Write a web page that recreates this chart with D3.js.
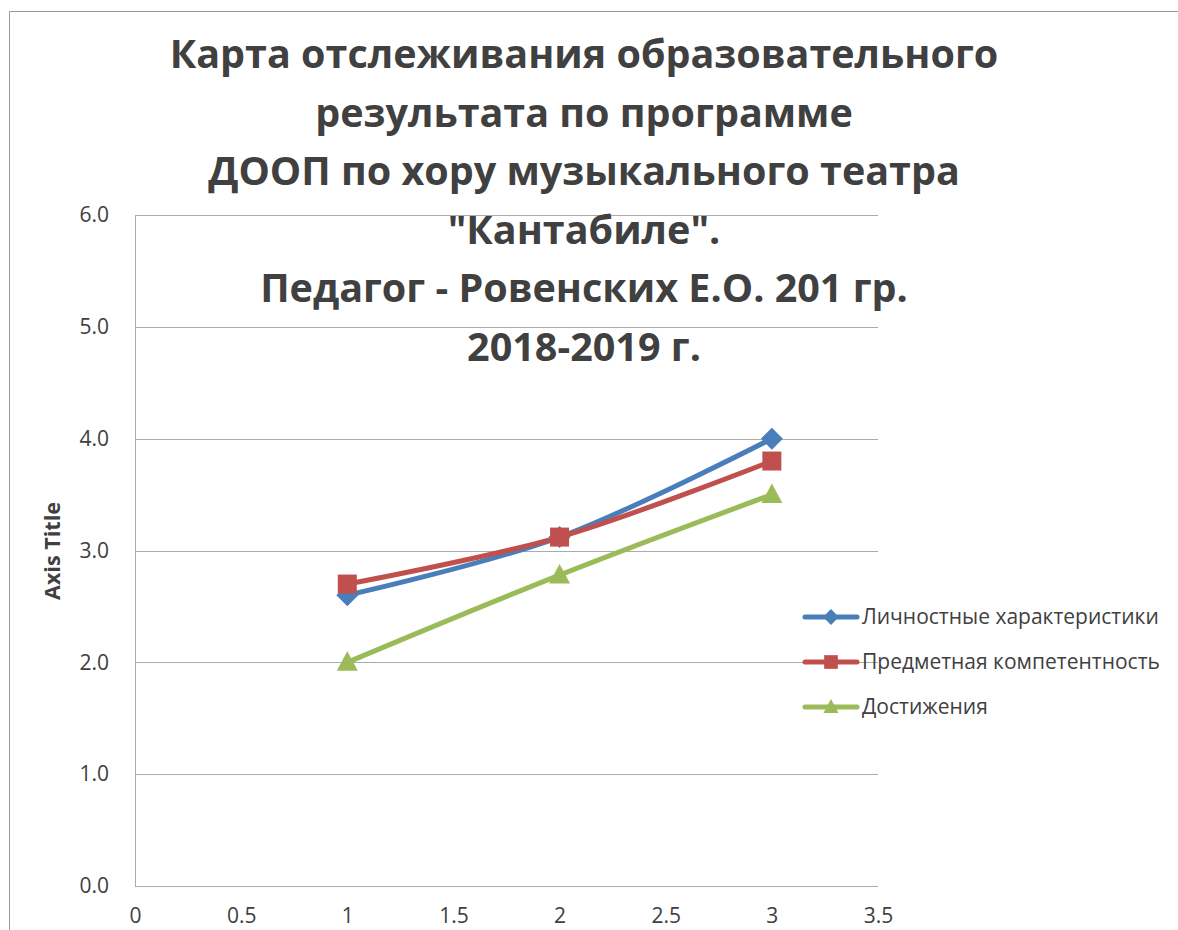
<!DOCTYPE html>
<html>
<head>
<meta charset="utf-8">
<script src="https://cdn.jsdelivr.net/npm/d3@7"></script>
<style>
  html, body { margin: 0; padding: 0; background: #fff; }
  svg { display: block; }
</style>
</head>
<body>
<svg id="chart" width="1178" height="930"></svg>
<script>
// ---- data ----
const xValues = [1, 2, 3];
const seriesNames = ["Личностные характеристики", "Предметная компетентность", "Достижения"];
const seriesLichnostnye = [2.6, 3.12, 4.0];
const seriesPredmetnaya = [2.7, 3.12, 3.8];
const seriesDostizheniya = [2.0, 2.78, 3.5];
const xTicks = [0, 0.5, 1, 1.5, 2, 2.5, 3, 3.5];
const yTicks = [0, 1, 2, 3, 4, 5, 6];
const titleLines = [
  "Карта отслеживания образовательного",
  "результата по программе",
  "ДООП по хору музыкального театра",
  "\"Кантабиле\".",
  "Педагог - Ровенских Е.О. 201 гр.",
  "2018-2019 г."
];
const yAxisTitle = "Axis Title";

// ---- styles ----
const colors = ["#4A7EBB", "#C0504D", "#9BBB59"];
const markerTypes = ["diamond", "square", "triangle"];
const textColor = "#404040";
const gridColor = "#ababab";
const font = "'Open Sans', 'Noto Sans', sans-serif";

const svg = d3.select("#chart");

// chart border
svg.append("path")
  .attr("d", "M9.5,930 L9.5,11.5 L1178,11.5")
  .attr("fill", "none")
  .attr("stroke", "#9a9a9a")
  .attr("stroke-width", 1);

const x = d3.scaleLinear().domain([0, 3.5]).range([135, 878]);
const y = d3.scaleLinear().domain([0, 6]).range([886, 215]);

// gridlines
svg.append("g")
  .selectAll("line")
  .data(yTicks)
  .join("line")
  .attr("x1", x(0)).attr("x2", x(3.5))
  .attr("y1", d => Math.round(y(d)) + 0.5)
  .attr("y2", d => Math.round(y(d)) + 0.5)
  .attr("stroke", gridColor)
  .attr("stroke-width", 1);

// y axis
const yAxis = d3.axisLeft(y).tickValues(yTicks).tickFormat(d3.format(".1f")).tickSize(0).tickPadding(26);
const gy = svg.append("g").attr("transform", `translate(${x(0)},0)`).call(yAxis);
gy.select(".domain").attr("stroke", gridColor);
gy.selectAll("text").attr("font-family", font).attr("font-size", 21).attr("fill", textColor);

// x axis (labels only)
const xAxis = d3.axisBottom(x).tickValues(xTicks).tickFormat(d => d3.format("")(d)).tickSize(0).tickPadding(22);
const gx = svg.append("g").attr("transform", `translate(0,${y(0)})`).call(xAxis);
gx.select(".domain").remove();
gx.selectAll("text").attr("font-family", font).attr("font-size", 21).attr("fill", textColor);

// axis title
svg.append("text")
  .attr("transform", `translate(60,551) rotate(-90)`)
  .attr("text-anchor", "middle")
  .attr("font-family", font)
  .attr("font-size", 21)
  .attr("font-weight", "bold")
  .attr("fill", textColor)
  .attr("textLength", 98)
  .attr("lengthAdjust", "spacingAndGlyphs")
  .text(yAxisTitle);

// series
const allSeries = [seriesLichnostnye, seriesPredmetnaya, seriesDostizheniya];
const line = d3.line()
  .x((d, i) => x(xValues[i]))
  .y(d => y(d))
  .curve(d3.curveCatmullRom.alpha(0));

function markerPath(type) {
  if (type === "diamond") return "M0,-11L11,0L0,11L-11,0Z";
  if (type === "square") return "M-9.5,-9.5H9.5V9.5H-9.5Z";
  return "M0,-11L10.5,8.5L-10.5,8.5Z";
}

allSeries.forEach((vals, si) => {
  svg.append("path")
    .datum(vals)
    .attr("d", line)
    .attr("fill", "none")
    .attr("stroke", colors[si])
    .attr("stroke-width", 5)
    .attr("stroke-linecap", "round");
});
allSeries.forEach((vals, si) => {
  svg.append("g").selectAll("path")
    .data(vals)
    .join("path")
    .attr("transform", (d, i) => `translate(${x(xValues[i])},${y(d)})`)
    .attr("d", markerPath(markerTypes[si]))
    .attr("fill", colors[si]);
});

// legend
const legend = svg.append("g");
seriesNames.forEach((name, i) => {
  const ly = 617 + i * 45;
  const g = legend.append("g").attr("transform", `translate(805,${ly})`);
  g.append("line").attr("x1", 0).attr("x2", 52).attr("y1", 0).attr("y2", 0)
    .attr("stroke", colors[i]).attr("stroke-width", 5).attr("stroke-linecap", "round");
  g.append("path").attr("transform", "translate(26,0) scale(0.72)")
    .attr("d", markerPath(markerTypes[i])).attr("fill", colors[i]);
  g.append("text").attr("x", 57).attr("y", 0).attr("dy", "0.35em")
    .attr("font-family", font).attr("font-size", 21).attr("fill", textColor)
    .text(name);
});

// title
const title = svg.append("g");
titleLines.forEach((t, i) => {
  title.append("text")
    .attr("x", 584)
    .attr("y", 68 + i * 58.6)
    .attr("text-anchor", "middle")
    .attr("font-family", font)
    .attr("font-size", 39.5)
    .attr("font-weight", "bold")
    .attr("fill", textColor)
    .text(t);
});
</script>
</body>
</html>
